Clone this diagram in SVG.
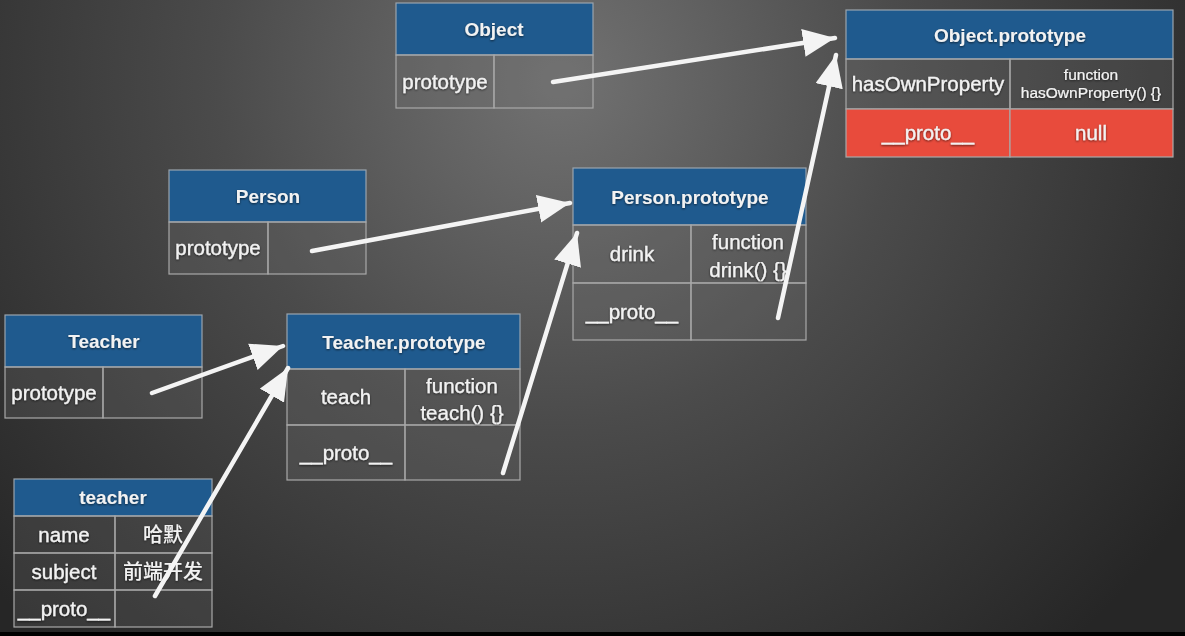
<svg xmlns="http://www.w3.org/2000/svg" width="1185" height="636" viewBox="0 0 1185 636">
<defs>
<radialGradient id="bg" cx="560" cy="80" r="760" gradientUnits="userSpaceOnUse">
<stop offset="0" stop-color="#727272"/>
<stop offset="0.45" stop-color="#4b4b4b"/>
<stop offset="1" stop-color="#262626"/>
</radialGradient>
<marker id="ah" viewBox="0 0 10 10" refX="10" refY="5" markerWidth="32" markerHeight="28" markerUnits="userSpaceOnUse" orient="auto" preserveAspectRatio="none">
<path d="M0,0 L10,5 L0,10 z" fill="#f4f4f4"/>
</marker>
<filter id="ts" x="-10%" y="-30%" width="120%" height="160%">
<feDropShadow dx="0" dy="1" stdDeviation="1" flood-color="#000" flood-opacity="0.6"/>
</filter>
</defs>
<style>
.hd{fill:#1f5a8e;stroke:#9aa4ad;stroke-width:1.2}
.cl{fill:rgba(110,110,110,0.25);stroke:#a8a8a8;stroke-width:1.2}
.rd{fill:#e84b3c;stroke:#a8a8a8;stroke-width:1.2}
text{font-family:"Liberation Sans",Arial,"Noto Sans CJK SC",sans-serif;fill:#f2f2f2;text-anchor:middle;filter:url(#ts)}
.h{font-size:19px;font-weight:bold}
.c{font-size:20.5px;stroke:#f2f2f2;stroke-width:0.3}
.s{font-size:15.5px;stroke:#f2f2f2;stroke-width:0.15}
.f{font-size:20.5px;stroke:#f2f2f2;stroke-width:0.25}
.cn{font-family:"Noto Sans CJK SC","Liberation Sans",sans-serif;font-size:20px;font-weight:500}
.ar{stroke:#f4f4f4;stroke-width:4.5;fill:none;stroke-linecap:round;marker-end:url(#ah)}
</style>
<rect x="0" y="0" width="1185" height="636" fill="url(#bg)"/>
<rect x="0" y="632" width="1185" height="4" fill="#000"/>

<g id="Object">
<rect class="hd" x="396" y="3" width="197" height="52"/>
<rect class="cl" x="396" y="55" width="98" height="53"/>
<rect class="cl" x="494" y="55" width="99" height="53"/>
<text class="h" x="494" y="36">Object</text>
<text class="c" x="445" y="89">prototype</text>
</g>

<g id="ObjectPrototype">
<rect class="hd" x="846" y="10" width="327" height="49"/>
<rect class="cl" x="846" y="59" width="164" height="50"/>
<rect class="cl" x="1010" y="59" width="163" height="50"/>
<rect class="rd" x="846" y="109" width="164" height="48"/>
<rect class="rd" x="1010" y="109" width="163" height="48"/>
<text class="h" x="1010" y="42">Object.prototype</text>
<text class="c" x="928" y="91">hasOwnProperty</text>
<text class="s" x="1091" y="80">function</text>
<text class="s" x="1091" y="98">hasOwnProperty() {}</text>
<text class="c" x="928" y="140">__proto__</text>
<text class="c" x="1091" y="140">null</text>
</g>

<g id="Person">
<rect class="hd" x="169" y="170" width="197" height="52"/>
<rect class="cl" x="169" y="222" width="99" height="52"/>
<rect class="cl" x="268" y="222" width="98" height="52"/>
<text class="h" x="268" y="203">Person</text>
<text class="c" x="218" y="255">prototype</text>
</g>

<g id="PersonPrototype">
<rect class="hd" x="573" y="168" width="233" height="57"/>
<rect class="cl" x="573" y="225" width="118" height="58"/>
<rect class="cl" x="691" y="225" width="115" height="58"/>
<rect class="cl" x="573" y="283" width="118" height="57"/>
<rect class="cl" x="691" y="283" width="115" height="57"/>
<text class="h" x="690" y="204">Person.prototype</text>
<text class="c" x="632" y="261">drink</text>
<text class="f" x="748" y="249">function</text>
<text class="f" x="748" y="277">drink() {}</text>
<text class="c" x="632" y="319">__proto__</text>
</g>

<g id="Teacher">
<rect class="hd" x="5" y="315" width="197" height="52"/>
<rect class="cl" x="5" y="367" width="98" height="51"/>
<rect class="cl" x="103" y="367" width="99" height="51"/>
<text class="h" x="104" y="348">Teacher</text>
<text class="c" x="54" y="400">prototype</text>
</g>

<g id="TeacherPrototype">
<rect class="hd" x="287" y="314" width="233" height="55"/>
<rect class="cl" x="287" y="369" width="118" height="56"/>
<rect class="cl" x="405" y="369" width="115" height="56"/>
<rect class="cl" x="287" y="425" width="118" height="55"/>
<rect class="cl" x="405" y="425" width="115" height="55"/>
<text class="h" x="404" y="349">Teacher.prototype</text>
<text class="c" x="346" y="404">teach</text>
<text class="f" x="462" y="393">function</text>
<text class="f" x="462" y="420">teach() {}</text>
<text class="c" x="346" y="460">__proto__</text>
</g>

<g id="teacher">
<rect class="hd" x="14" y="479" width="198" height="37"/>
<rect class="cl" x="14" y="516" width="101" height="37"/>
<rect class="cl" x="115" y="516" width="97" height="37"/>
<rect class="cl" x="14" y="553" width="101" height="37"/>
<rect class="cl" x="115" y="553" width="97" height="37"/>
<rect class="cl" x="14" y="590" width="101" height="37"/>
<rect class="cl" x="115" y="590" width="97" height="37"/>
<text class="h" x="113" y="504">teacher</text>
<text class="c" x="64" y="542">name</text>
<text class="cn" x="163" y="542">哈默</text>
<text class="c" x="64" y="579">subject</text>
<text class="cn" x="163" y="579">前端开发</text>
<text class="c" x="64" y="616">__proto__</text>
</g>

<g id="connectors">
<line class="ar" x1="553" y1="82" x2="835" y2="38"/>
<line class="ar" x1="778" y1="318" x2="836" y2="55"/>
<line class="ar" x1="312" y1="251" x2="570" y2="203"/>
<line class="ar" x1="503" y1="473" x2="577" y2="233"/>
<line class="ar" x1="152" y1="393" x2="283" y2="346"/>
<line class="ar" x1="155" y1="596" x2="288" y2="368"/>
</g>
</svg>
